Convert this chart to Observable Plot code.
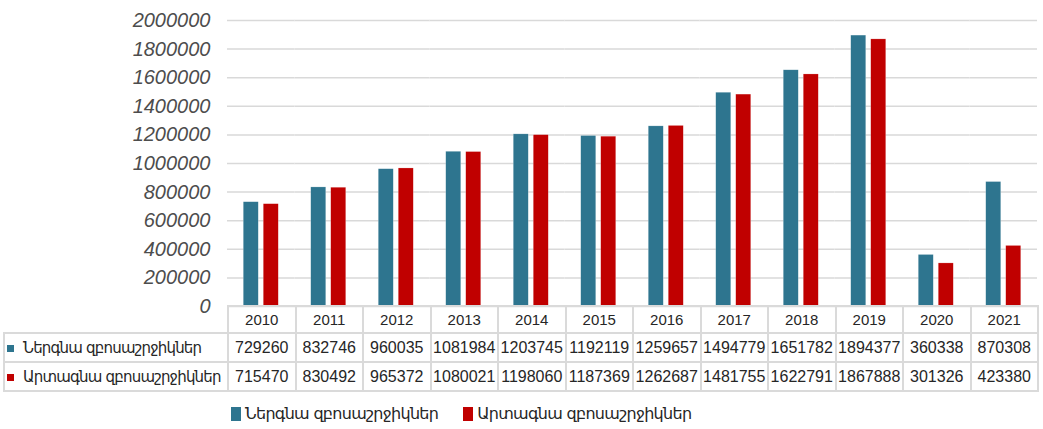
<!DOCTYPE html>
<html>
<head>
<meta charset="utf-8">
<script src="https://cdn.jsdelivr.net/npm/d3@7"></script>
<script src="https://cdn.jsdelivr.net/npm/@observablehq/plot@0.6"></script>
<style>
  html, body { margin: 0; padding: 0; background: #fff; }
  #wrap { position: relative; width: 1043px; height: 429px; overflow: hidden; }
  #chart { position: absolute; left: 0; top: 0; }
  #tbl { position: absolute; left: 3px; top: 305px; border-collapse: collapse; table-layout: fixed; width: 1034px; }
  #tbl td { border: 2px solid #dadada; text-align: center; padding: 0; font: 16px "Liberation Sans", sans-serif; color: #262626; white-space: nowrap; overflow: hidden; }
  #tbl tr.hdr td { font-size: 15px; }
  #tbl td.lab { text-align: left; padding-left: 2px; font: 15px "DejaVu Sans", sans-serif; letter-spacing: -0.8px; color: #262626; }
  #tbl td.blank { border-top: none; border-left: none; }
  .mk { display: inline-block; width: 7px; height: 7px; margin-right: 9px; vertical-align: 1px; }
  #legend { position: absolute; left: 231px; top: 404px; display: flex; align-items: center; font: 16px "DejaVu Sans", sans-serif; letter-spacing: -0.7px; color: #262626; }
  #legend .it { display: flex; align-items: center; margin-right: 25px; }
  #legend .sq { width: 10px; height: 14px; margin-right: 4px; }
</style>
</head>
<body>
<div id="wrap">
  <div id="chart"></div>
  <table id="tbl"></table>
  <div id="legend"></div>
</div>
<script>
const years = [2010, 2011, 2012, 2013, 2014, 2015, 2016, 2017, 2018, 2019, 2020, 2021];
const seriesNames = ["Ներգնա զբոսաշրջիկներ", "Արտագնա զբոսաշրջիկներ"];
const inbound  = [729260, 832746, 960035, 1081984, 1203745, 1192119, 1259657, 1494779, 1651782, 1894377, 360338, 870308];
const outbound = [715470, 830492, 965372, 1080021, 1198060, 1187369, 1262687, 1481755, 1622791, 1867888, 301326, 423380];
const yTicks = [0, 200000, 400000, 600000, 800000, 1000000, 1200000, 1400000, 1600000, 1800000, 2000000];
const colors = ["#2E758F", "#C00000"];

const data = years.flatMap((yr, i) => [
  {year: yr, series: seriesNames[0], value: inbound[i]},
  {year: yr, series: seriesNames[1], value: outbound[i]}
]);

const chart = Plot.plot({
  width: 1043,
  height: 322,
  marginTop: 20,
  marginBottom: 16,
  marginLeft: 227,
  marginRight: 6,
  style: {fontFamily: "'Liberation Sans', sans-serif", fontSize: "20px", fontStyle: "italic", color: "#4d4d4d", background: "transparent", overflow: "visible"},
  fx: {domain: years, padding: 0, round: false, axis: null, label: null},
  x: {domain: seriesNames, paddingInner: 0.25, paddingOuter: 0.8125, round: false, axis: null, label: null},
  y: {domain: [0, 2000000], ticks: yTicks, tickFormat: d => String(d), tickSize: 0, tickPadding: 17, label: null},
  color: {domain: seriesNames, range: colors},
  marks: [
    Plot.ruleY(yTicks, {stroke: "#d9d9d9", strokeWidth: 1.5}),
    Plot.barY(data, {fx: "year", x: "series", y: "value", fill: "series", stroke: "#ffffff", strokeOpacity: 0.4, strokeWidth: 0.5})
  ]
});
document.getElementById("chart").appendChild(chart);

// Data table
const tbl = document.getElementById("tbl");
const cg = document.createElement("colgroup");
const c0 = document.createElement("col"); c0.style.width = "224px"; cg.appendChild(c0);
years.forEach(() => { const c = document.createElement("col"); c.style.width = "67.5px"; cg.appendChild(c); });
tbl.appendChild(cg);
const hdr = document.createElement("tr"); hdr.className = "hdr"; hdr.style.height = "27px";
const b = document.createElement("td"); b.className = "blank"; hdr.appendChild(b);
years.forEach(y => { const td = document.createElement("td"); td.textContent = y; hdr.appendChild(td); });
tbl.appendChild(hdr);
[inbound, outbound].forEach((vals, si) => {
  const tr = document.createElement("tr"); tr.style.height = "29px";
  const lab = document.createElement("td"); lab.className = "lab";
  const mk = document.createElement("span"); mk.className = "mk"; mk.style.background = colors[si];
  lab.appendChild(mk); lab.appendChild(document.createTextNode(seriesNames[si]));
  tr.appendChild(lab);
  vals.forEach(v => { const td = document.createElement("td"); td.textContent = v; tr.appendChild(td); });
  tbl.appendChild(tr);
});

// Legend
const lg = document.getElementById("legend");
seriesNames.forEach((s, i) => {
  const it = document.createElement("div"); it.className = "it";
  const sq = document.createElement("div"); sq.className = "sq"; sq.style.background = colors[i];
  const tx = document.createElement("span"); tx.textContent = s;
  it.appendChild(sq); it.appendChild(tx); lg.appendChild(it);
});
</script>
</body>
</html>
